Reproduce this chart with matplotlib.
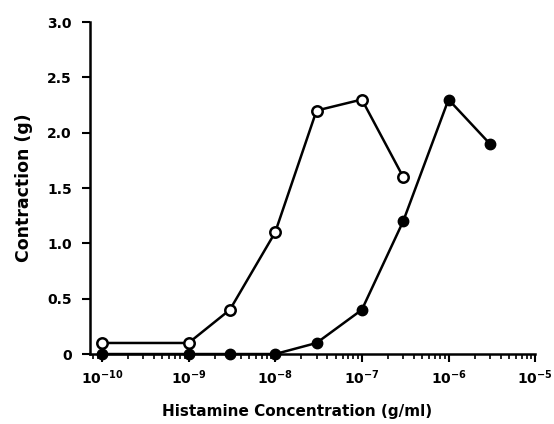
import matplotlib
matplotlib.use('Agg')
import matplotlib.pyplot as plt
from matplotlib.ticker import FixedLocator, FixedFormatter, LogLocator, NullFormatter

plt.rcParams['font.family'] = ['DejaVu Sans']
plt.rcParams['mathtext.fontset'] = 'dejavusans'

# открытые кружки
conc_open = [1e-10, 1e-9, 3e-9, 1e-8, 3e-8, 1e-7, 3e-7]
contr_open = [0.1, 0.1, 0.4, 1.1, 2.2, 2.3, 1.6]

# закрашенные кружки
conc_filled = [1e-10, 1e-9, 3e-9, 1e-8, 3e-8, 1e-7, 3e-7, 1e-6, 3e-6]
contr_filled = [0.0, 0.0, 0.0, 0.0, 0.1, 0.4, 1.2, 2.3, 1.9]

x_ticks = [1e-10, 1e-9, 1e-8, 1e-7, 1e-6, 1e-5]
x_labels = [r'$\mathbf{10^{-10}}$', r'$\mathbf{10^{-9}}$', r'$\mathbf{10^{-8}}$',
            r'$\mathbf{10^{-7}}$', r'$\mathbf{10^{-6}}$', r'$\mathbf{10^{-5}}$']
y_ticks = [0, 0.5, 1.0, 1.5, 2.0, 2.5, 3.0]
y_labels = ['0', '0.5', '1.0', '1.5', '2.0', '2.5', '3.0']

fig = plt.figure(figsize=(5.54, 4.24), dpi=100)
ax = fig.add_axes([0.162, 0.165, 0.804, 0.783])

ax.plot(conc_filled, contr_filled, '-o', color='black', lw=1.8,
        markersize=7.5, markerfacecolor='black', clip_on=False, zorder=3)
ax.plot(conc_open, contr_open, '-o', color='black', lw=1.8,
        markersize=7.5, markerfacecolor='white', markeredgewidth=1.8,
        clip_on=False, zorder=4)

ax.set_xscale('log')
ax.set_xlim(10 ** -10.14, 1e-5)
ax.set_ylim(0, 3.0)

ax.xaxis.set_major_locator(FixedLocator(x_ticks))
ax.xaxis.set_major_formatter(FixedFormatter(x_labels))
ax.xaxis.set_minor_locator(LogLocator(base=10, subs=range(2, 10)))
ax.xaxis.set_minor_formatter(NullFormatter())
ax.set_yticks(y_ticks)
ax.set_yticklabels(y_labels)

for s in ['top', 'right']:
    ax.spines[s].set_visible(False)
for s in ['left', 'bottom']:
    ax.spines[s].set_linewidth(1.8)

ax.tick_params(axis='y', which='major', direction='out', length=6, width=1.5,
               labelsize=10, pad=7)
ax.tick_params(axis='x', which='major', direction='out', length=6, width=1.5,
               labelsize=10, pad=4)
ax.tick_params(axis='x', which='minor', direction='out', length=3.5, width=1.2)
for t in ax.get_yticklabels():
    t.set_fontweight('bold')

ax.set_xlabel('Histamine Concentration (g/ml)', fontsize=11, fontweight='bold')
ax.xaxis.set_label_coords(0.465, -0.15)
ax.set_ylabel('Contraction (g)', fontsize=12.5, fontweight='bold', labelpad=10)

fig.savefig('out.png', dpi=100)
